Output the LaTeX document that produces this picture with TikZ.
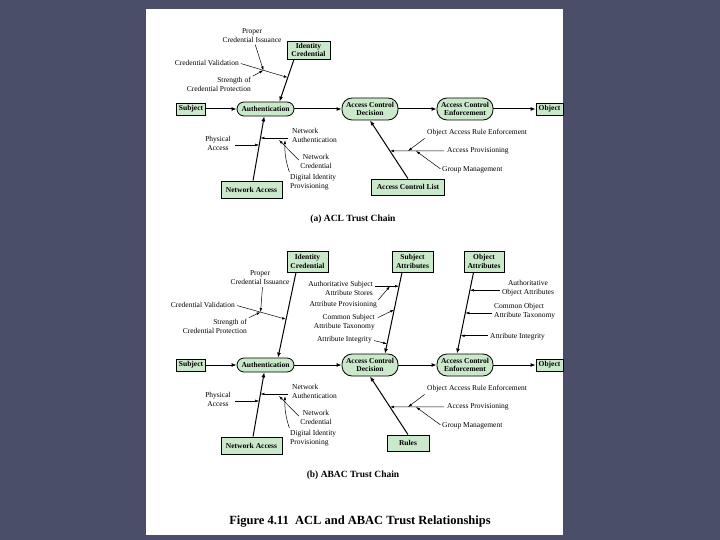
\documentclass[tikz,border=0pt]{standalone}
\usepackage{fontspec}
\setmainfont{Liberation Serif}
\usetikzlibrary{calc, arrows.meta}

\definecolor{slidebg}{RGB}{74,78,104}
\definecolor{boxgreen}{RGB}{202,232,202}

\begin{document}
\begin{tikzpicture}[x = 1pt, y = -1pt,
		box/.style = {draw, fill = boxgreen, line width = 0.8pt, inner sep = 0pt, align = center, font = \fontsize{7.5}{8.5}\selectfont\bfseries},
		pill/.style = {box, rounded corners = #1},
		lbl/.style = {inner sep = 0pt, font = \fontsize{7.5}{9}\selectfont},
		chain/.style = {-{Latex[length = 5pt, width = 4pt]}, line width = 1pt},
		feed/.style = {-{Latex[length = 4pt, width = 2.6pt]}, line width = 0.5pt}]

	\fill [slidebg] (0,0) rectangle (720,540);
	\fill [white] (146,9) rectangle (563,535);

	% the chain shared by both panels
	\foreach \p/\dy/\src/\srcw/\ttl in {a/0/{Access Control List}/73/{(a) ACL Trust Chain}, b/256/Rules/42/{(b) ABAC Trust Chain}}
	{
		\node [box, minimum width = 29pt, minimum height = 12pt] (subj\p) at (191,109+\dy) {Subject};
		\node [pill = 7pt, minimum width = 57pt, minimum height = 14pt] (auth\p) at (265.5,109+\dy) {Authentication};
		\node [pill = 10pt, minimum width = 56pt, minimum height = 22pt] (dec\p) at (370,109+\dy) {Access Control\\Decision};
		\node [pill = 10pt, minimum width = 56pt, minimum height = 22pt] (enf\p) at (465,109+\dy) {Access Control\\Enforcement};
		\node [box, minimum width = 27pt, minimum height = 12pt] (obj\p) at (549.5,109+\dy) {Object};
		\node [box, minimum width = 61pt, minimum height = 17pt] (netacc\p) at (251.5,189.5+\dy) {Network Access};
		\node [box, minimum width = \srcw pt, minimum height = 16pt] (src\p) at (408,187+\dy) {\src};
		\node [font = \fontsize{9.5}{11}\selectfont\bfseries] (sub\p) at (353,219+\dy) {\ttl};

		\draw [chain] (subj\p) -- (auth\p);
		\draw [chain] (auth\p) -- (dec\p);
		\draw [chain] (dec\p) -- (enf\p);
		\draw [chain] (enf\p) -- (obj\p);
		\draw [chain] (netacc\p) -- (auth\p);
		\draw [chain] (src\p.north) -- (dec\p.south);

		% network access side
		\node [lbl, align = center] (phys\p) at (218,143+\dy) {Physical\\Access};
		\node [lbl, align = left, anchor = west] (netauth\p) at (292,135+\dy) {Network\\Authentication};
		\node [lbl, align = center] (netcred\p) at (316,161.5+\dy) {Network\\Credential};
		\node [lbl, align = left, anchor = west] (digid\p) at (290,182+\dy) {Digital Identity\\Provisioning};
		\coordinate (na1\p) at ($(netacc\p)!0.553!(auth\p)$);
		\coordinate (na2\p) at ($(netacc\p)!0.64!(auth\p)$);
		\coordinate (nc\p) at (279,140+\dy);
		\coordinate (di\p) at (285,140+\dy);
		\draw [feed, shorten <= 4pt] (phys\p.east |- na1\p) -- (na1\p);
		\draw [feed, shorten <= 4pt] (netauth\p.west |- na2\p) -- (na2\p);
		\draw [feed, shorten <= 2pt] (netcred\p.west) -- (nc\p);
		\draw [feed, shorten <= 2pt] (digid\p.north west) to [bend left = 10] (di\p);

		% rule side
		\node [lbl, anchor = west] (oare\p) at (427,133+\dy) {Object Access Rule Enforcement};
		\node [lbl, anchor = west] (aprov\p) at (447,151+\dy) {Access Provisioning};
		\node [lbl, anchor = west] (grp\p) at (442,170+\dy) {Group Management};
		\coordinate (ap\p) at ($(src\p.north)!0.475!(dec\p.south)$);
		\coordinate (ap1\p) at (408,151+\dy);
		\coordinate (ap2\p) at (416,151+\dy);
		\draw [feed, shorten <= 3pt] (aprov\p.west) -- (ap\p);
		\draw [feed, shorten <= 3pt] (oare\p.south west) -- (ap1\p);
		\draw [feed, shorten <= 2pt] (grp\p.west) -- (ap2\p);
	}

	% (a) identity credential
	\node [box, minimum width = 43pt, minimum height = 18pt] (idca) at (308.5,50) {Identity\\Credential};
	\coordinate (idtopa) at ($(idca.south)+(-14.5,0)$);
	\coordinate (idbota) at ($(autha.north)+(14,0)$);
	\draw [chain] (idtopa) -- (idbota);

	\node [lbl, align = center] (pcia) at (252,35.5) {Proper\\Credential Issuance};
	\node [lbl, anchor = east] (cva) at (239,63) {Credential Validation};
	\node [lbl, align = right, anchor = east] (scpa) at (251,84.5) {Strength of\\Credential Protection};
	\coordinate (cvenda) at ($(idtopa)!0.43!(idbota)$);
	\coordinate (cvmida) at ($(cva.east)!0.5!(cvenda)$);
	\draw [feed, shorten <= 2pt] (cva.east) -- (cvenda);
	\draw [feed, shorten <= 2pt] (pcia.-70) -- (cvmida);
	\draw [feed, shorten <= 2pt] (scpa.north east) -- (cvmida);

	% (b) identity credential and attributes
	\node [box, minimum width = 41pt, minimum height = 21pt] (idcb) at (307.5,261.5) {Identity\\Credential};
	\node [box, minimum width = 41pt, minimum height = 21pt] (sattr) at (412.5,261.5) {Subject\\Attributes};
	\node [box, minimum width = 40pt, minimum height = 21pt] (oattr) at (484,261.5) {Object\\Attributes};
	\coordinate (idtopb) at ($(idcb.south)+(-11.5,0)$);
	\coordinate (idbotb) at ($(authb.north)+(12.5,0)$);
	\coordinate (satop) at ($(sattr.south)+(-10.5,0)$);
	\coordinate (sabot) at ($(decb.north)+(15,0)$);
	\coordinate (oatop) at ($(oattr.south)+(-10.5,0)$);
	\coordinate (oabot) at ($(enfb.north)+(-8,0)$);
	\draw [chain] (idtopb) -- (idbotb);
	\draw [chain] (satop) -- (sabot);
	\draw [chain] (oatop) -- (oabot);

	\node [lbl, align = center] (pcib) at (260,278) {Proper\\Credential Issuance};
	\node [lbl, anchor = east] (cvb) at (235,305) {Credential Validation};
	\node [lbl, align = right, anchor = east] (scpb) at (247,326) {Strength of\\Credential Protection};
	\coordinate (cvendb) at ($(idtopb)!0.55!(idbotb)$);
	\coordinate (cvmidb) at ($(cvb.east)!0.5!(cvendb)$);
	\draw [feed, shorten <= 2pt] (cvb.east) -- (cvendb);
	\draw [feed, shorten <= 2pt] (pcib.-70) -- (cvmidb);
	\draw [feed, shorten <= 2pt] (scpb.north east) -- (cvmidb);

	\node [lbl, align = right, anchor = east] (asas) at (373,288) {Authoritative Subject\\Attribute Stores};
	\node [lbl, anchor = east] (aprovs) at (377,305) {Attribute Provisioning};
	\node [lbl, align = right, anchor = east] (cstx) at (375,322.5) {Common Subject\\Attribute Taxonomy};
	\node [lbl, anchor = east] (aintg) at (372,340) {Attribute Integrity};
	\coordinate (asend) at ($(satop)!0.17!(sabot)$);
	\coordinate (apsend) at ($(asend)!0.35!(asend -| asas.east)$);
	\coordinate (csend) at ($(satop)!0.46!(sabot)$);
	\coordinate (aiend) at ($(satop)!0.88!(sabot)$);
	\draw [feed, shorten <= 2pt] (asend -| asas.east) -- (asend);
	\draw [feed, shorten <= 2pt] (aprovs.north east) -- (apsend);
	\draw [feed, shorten <= 2pt] ($(cstx.east)+(1,-4)$) -- (csend);
	\draw [feed, shorten <= 2pt] (aintg.east) -- (aiend);

	\node [lbl, align = center] (aoa) at (528,288) {Authoritative\\Object Attributes};
	\node [lbl, align = left, anchor = west] (cotx) at (494,311.5) {Common Object\\Attribute Taxonomy};
	\node [lbl, anchor = west] (oaint) at (490,337) {Attribute Integrity};
	\coordinate (aoaend) at ($(oatop)!0.22!(oabot)$);
	\coordinate (coend) at ($(oatop)!0.5!(oabot)$);
	\coordinate (oaiend) at ($(oatop)!0.78!(oabot)$);
	\draw [feed, shorten <= 2pt] (aoaend -| aoa.west) -- (aoaend);
	\draw [feed, shorten <= 2pt] (coend -| cotx.west) -- (coend);
	\draw [feed, shorten <= 2pt] (oaiend -| oaint.west) -- (oaiend);

	\node [font = \fontsize{12.5}{14}\selectfont\bfseries] (fig) at (360,522) {Figure 4.11\ \ ACL and ABAC Trust Relationships};
\end{tikzpicture}
\end{document}
